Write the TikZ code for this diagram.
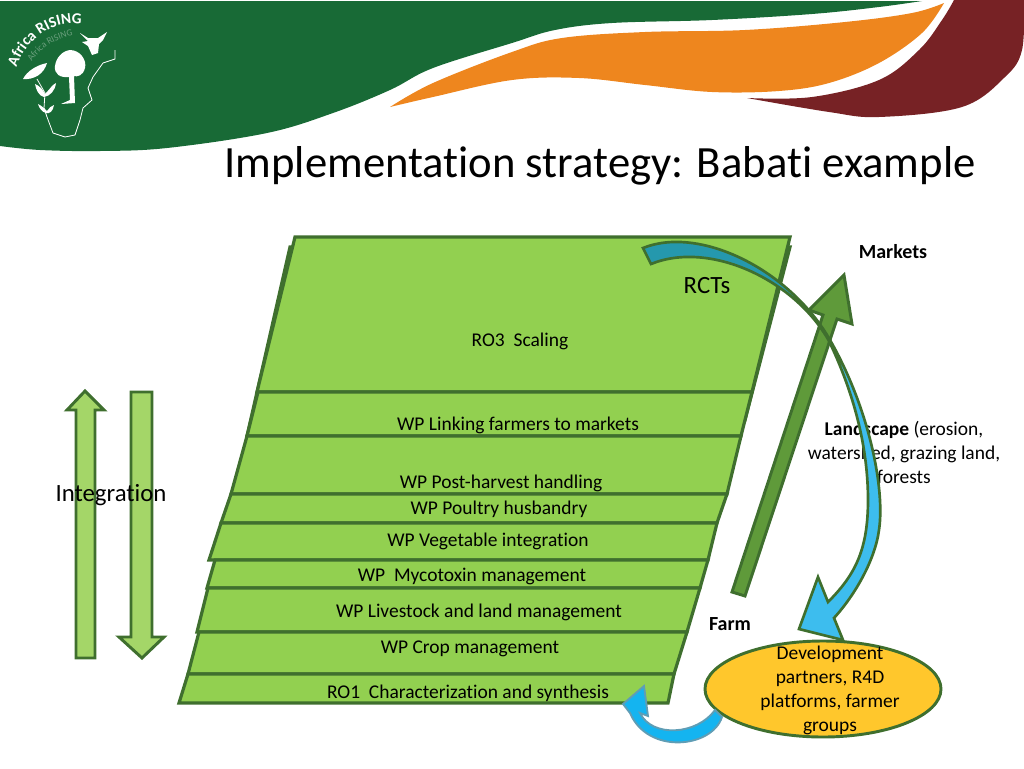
\documentclass[tikz,border=0pt]{standalone}
\usepackage{fontspec}
\setmainfont{Carlito}[Ligatures=NoCommon]
\usepackage{xcolor}
\usetikzlibrary{shapes.geometric,decorations.text}
\definecolor{bannergreen}{HTML}{186A36}
\definecolor{bannerorange}{HTML}{EE861E}
\definecolor{bannermaroon}{HTML}{772225}
\definecolor{bandfill}{HTML}{92D050}
\definecolor{bandline}{HTML}{3F6F2E}
\definecolor{intfill}{HTML}{A4D668}
\definecolor{scalefill}{HTML}{5F9A3A}
\definecolor{rctblue}{HTML}{3DBDEE}
\definecolor{rctteal}{HTML}{2598AD}
\definecolor{loopblue}{HTML}{14B4F0}
\definecolor{loopedge}{HTML}{5F9DB5}
\definecolor{partnerfill}{HTML}{FFC72C}
\pgfdeclareverticalshading{rcttone}{100bp}{color(0bp)=(rctblue); color(58bp)=(rctblue); color(66bp)=(rctteal); color(100bp)=(rctteal)}

\begin{document}
\begin{tikzpicture}[
  x=0.75pt, y=-0.75pt,
  band/.style={draw=bandline, fill=bandfill, line width=2.4pt, line join=miter},
  intarrow/.style={draw=bandline, fill=intfill, line width=2.2pt},
  wplabel/.style={font=\fontsize{14.6}{18}\selectfont, inner sep=0pt, align=center},
  keylabel/.style={font=\fontsize{15}{18}\selectfont\bfseries, inner sep=0pt},
  biglabel/.style={font=\fontsize{18.6}{22}\selectfont, inner sep=0pt},
  logoline/.style={draw=white, line width=0.6pt}
]
  \useasboundingbox (0,0) rectangle (1024,768);

  % banner
  \fill[bannergreen] (0,1) -- (922,1) -- plot[smooth,tension=.6] coordinates {(922,1) (879,7) (812,14) (712,20) (612,23) (555,30) (512,43) (433,68) (390,90) (333,113) (267,133) (167,148) (100,151) (40,150) (0,146)} -- cycle;
  \fill[bannerorange] plot[smooth,tension=.6] coordinates {(390,107) (433,83) (512,52) (562,38) (645,32) (745,30) (845,22) (912,13) (944,3)}
    -- plot[smooth,tension=.6] coordinates {(944,3) (922,33) (879,63) (829,83) (779,91) (712,92) (645,85) (579,78) (512,80) (433,97) (390,107)} -- cycle;
  \fill[bannermaroon] plot[smooth,tension=.6] coordinates {(747,98) (812,97) (879,80) (919,50) (942,20) (954,0)}
    -- (1024,0) -- plot[smooth,tension=.6] coordinates {(1024,0) (1022,50) (1005,77) (962,107) (879,117) (829,112) (747,98)} -- cycle;

  % logo
  \path[decorate, decoration={text along path, text align=center,
    text={|\fontsize{11.5}{11.5}\selectfont\bfseries\color{white}|Africa RISING}}]
    (15,72) .. controls (24,40) and (52,18) .. (86,25);
  \path[decorate, decoration={text along path, text align=center,
    text={|\fontsize{7}{7}\selectfont\color{white!35!bannergreen}|Africa RISING}}]
    (29,68) .. controls (36,50) and (56,36) .. (80,35);
  \fill[white] (80,33) -- (88,38) -- (98,38) -- (107,32) -- (103,40) -- (99,44) -- (98,53) -- (92,55) -- (88,46) -- (82,42) -- (88,41) -- cycle;
  \fill[white] (70,50) .. controls (80,50) and (87,60) .. (85,68) .. controls (83,76) and (77,77) .. (74,76)
    -- (75,103) -- (61,104) -- (70,100) -- (69,77) .. controls (60,78) and (54,74) .. (55,66) .. controls (56,58) and (62,51) .. (70,50) -- cycle;
  \fill[white] (47,63) .. controls (44,74) and (34,80) .. (23,79) .. controls (27,71) and (37,65) .. (47,63) -- cycle;
  \fill[white] (35,84) .. controls (40,86) and (43,90) .. (45,94) .. controls (50,89) and (52,85) .. (56,83) .. controls (55,91) and (50,96) .. (44,97) .. controls (39,96) and (36,90) .. (35,84) -- cycle;
  \fill[white] (38,104) .. controls (42,106) and (45,109) .. (47,111) .. controls (49,108) and (51,106) .. (54,105) .. controls (53,111) and (50,114) .. (46,113) .. controls (42,112) and (39,108) .. (38,104) -- cycle;
  \draw[logoline] (37,79) -- (45,93) -- (44,108) -- (47,117) -- (53,133) -- (65,137) -- (75,135) -- (80,120) -- (83,108) -- (92,100) -- (88,88) -- (93,77) -- (103,63) -- (115,59) -- (115,50);

  \node[font=\fontsize{33.5}{38}\selectfont, inner sep=0pt] (title) at (600,166) {Implementation strategy: Babati example};

  % integration arrows
  \draw[intarrow] (76,658) -- (76,410) -- (67,410) -- (85,391) -- (104,410) -- (95,410) -- (95,658) -- cycle;
  \draw[intarrow] (131,392) -- (152,392) -- (152,637) -- (164,637) -- (142,658) -- (119,637) -- (131,637) -- cycle;
  \node[biglabel] (integration) at (111,495) {Integration};

  % work package slices
  \draw[band] (290,247) -- (790,247) -- (745,420) -- (247,436) -- cycle;
  \draw[band] (295,237) -- (790,237) -- (752,392) -- (257,392) -- cycle;
  \draw[band] (258,392) -- (752,392) -- (741,436) -- (247,436) -- cycle;
  \draw[band] (247,436) -- (741,436) -- (727,494) -- (231,494) -- cycle;
  \draw[band] (231,494) -- (727,494) -- (717,523) -- (221,523) -- cycle;
  \draw[band] (221,523) -- (717,523) -- (708,560) -- (209,560) -- cycle;
  \draw[band] (215,560) -- (708,560) -- (700,588) -- (207,588) -- cycle;
  \draw[band] (208,588) -- (700,588) -- (687,632) -- (197,632) -- cycle;
  \draw[band] (199,632) -- (687,632) -- (674,674) -- (188,674) -- cycle;
  \draw[band] (188,674) -- (674,674) -- (668,703) -- (179,703) -- cycle;

  \node[wplabel] (scaling) at (520,341) {RO3\ \ Scaling};
  \node[wplabel] (linking) at (518,425) {WP Linking farmers to markets};
  \node[wplabel] (postharvest) at (501,483) {WP Post-harvest handling};
  \node[wplabel] (poultry) at (499,509) {WP Poultry husbandry};
  \node[wplabel] (vegetable) at (488,541) {WP Vegetable integration};
  \node[wplabel] (mycotoxin) at (472,576) {WP\ \ Mycotoxin management};
  \node[wplabel] (livestock) at (479,612) {WP Livestock and land management};
  \node[wplabel] (crop) at (470,649) {WP Crop management};
  \node[wplabel] (characterization) at (468,693) {RO1\ \ Characterization and synthesis};

  \node[biglabel] (rcts) at (707,286) {RCTs};
  \node[keylabel] (markets) at (893,252) {Markets};
  \node[keylabel] (farm) at (730,624) {Farm};
  \node[wplabel] (landscape) at (904,452) {\textbf{Landscape} (erosion,\\watershed, grazing land,\\forests};

  % farm to markets arrow
  \draw[draw=bandline, fill=scalefill, line width=2.2pt] (732,592) -- (823,315) -- (809,310) -- (844,275) -- (852,324) -- (837,319) -- (745,596) -- cycle;

  % RCT arrow
  \draw[draw=bandline, line width=2pt, shading=rcttone]
    (643,248) .. controls (700,225) and (790,270) .. (830,340) .. controls (870,410) and (885,490) .. (879,530) .. controls (875,560) and (855,595) .. (834,618)
    -- (843,640) -- (799,629) -- (818,577) -- (828,602)
    .. controls (855,575) and (868,550) .. (868,500) .. controls (868,440) and (850,385) .. (829,341) .. controls (795,280) and (710,240) .. (651,264) -- cycle;

  \node[ellipse, draw=bandline, fill=partnerfill, line width=2.2pt, minimum width=177pt, minimum height=72pt, inner sep=0pt] (partners) at (823,689) {};
  \node[wplabel] (partnerstext) at (830,690) {Development\\partners, R4D\\platforms, farmer\\groups};

  % partners loop arrow
  \draw[draw=loopedge, fill=loopblue, line width=1.4pt]
    (722,717) .. controls (712,748) and (648,755) .. (630,713)
    -- (623,704) -- (644,686) -- (648,716) -- (640,713)
    .. controls (652,738) and (697,735) .. (715,710) -- cycle;
\end{tikzpicture}
\end{document}
